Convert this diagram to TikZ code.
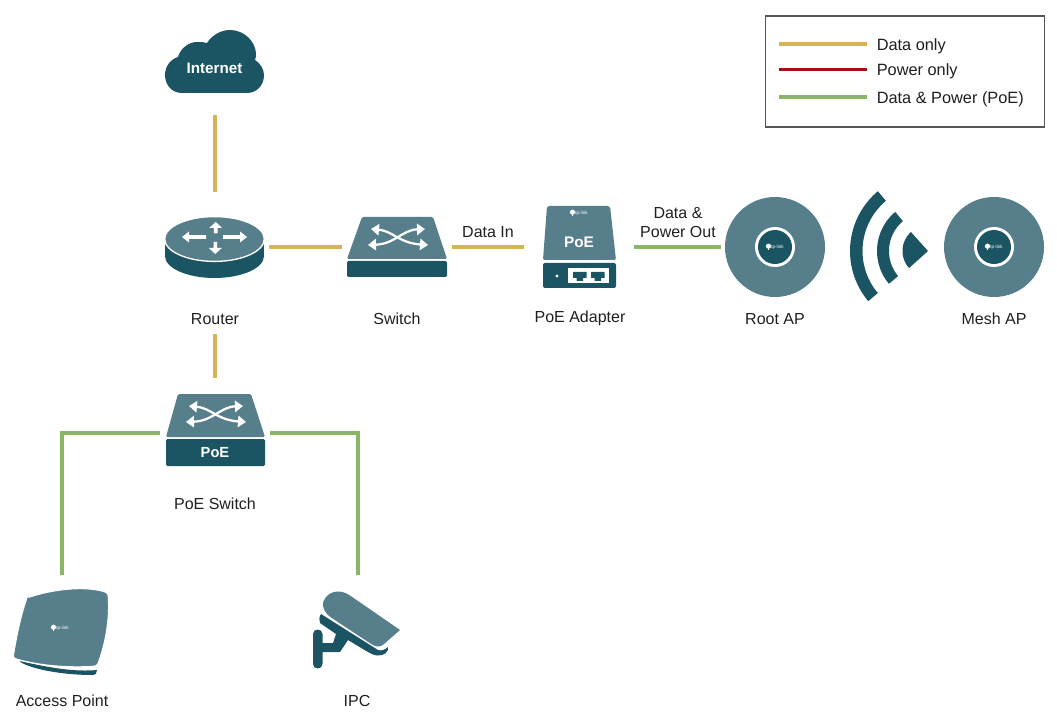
\documentclass[tikz,border=0pt]{standalone}
\usepackage{fontspec}
\setmainfont{Liberation Sans}
\usetikzlibrary{arrows.meta}
\definecolor{tealdark}{HTML}{1B5564}
\definecolor{teallight}{HTML}{567E8B}
\definecolor{datagold}{HTML}{D6B356}
\definecolor{powerred}{HTML}{A80F0F}
\definecolor{poegreen}{HTML}{8AB665}
\definecolor{legendframe}{HTML}{555555}
\tikzset{
  iconbox/.style 2 args={minimum width=#1*0.75pt,minimum height=#2*0.75pt,inner sep=0pt,outer sep=0pt},
  label/.style={font=\fontsize{12}{14}\selectfont,text=black!88,inner sep=0pt,align=center},
  legendlabel/.style={font=\fontsize{12.25}{14}\selectfont,text=black!88,inner sep=0pt,anchor=west},
  onicon/.style={font=\bfseries\fontsize{#1}{#1}\selectfont,text=white,inner sep=0pt},
  dataline/.style={draw=datagold,line width=2.3pt},
  powerline/.style={draw=powerred,line width=2.3pt},
  poeline/.style={draw=poegreen,line width=2.3pt},
  dk/.style={fill=tealdark,draw=none},
  lt/.style={fill=teallight,draw=none},
  wht/.style={fill=white,draw=none},
  crossarrow/.style={draw=white,line width=1.7pt,{Triangle[length=6pt,width=8.5pt]}-{Triangle[length=6pt,width=8.5pt]}}
}
\newcommand{\tplogo}[2]{%
  \fill[wht] (#1-6.5,#2-0.8) circle[radius=2.6];
  \fill[wht] (#1-7.4,#2-1) rectangle (#1-5.6,#2+3.4);
  \node[onicon=3.5] at (#1+2.5,#2) {\mdseries tp-link};
}
\newcommand{\crosstop}[2]{%
  \begin{scope}[shift={(#1,#2)}]
    \draw[crossarrow] (24,12) .. controls (46,14) and (52,26) .. (81,28);
    \draw[crossarrow] (21,28) .. controls (48,27) and (55,13) .. (78,12);
  \end{scope}
}
\newcommand{\mountap}[2]{%
  \fill[lt] (#1,#2) circle[radius=50];
  \fill[wht] (#1,#2) circle[radius=20];
  \fill[dk] (#1,#2) circle[radius=17];
  \tplogo{#1}{#2}
}
\newcommand{\blockarrow}[6]{% x y angle length headlength headwidth
  \begin{scope}[shift={(#1,#2)},rotate=#3]
    \fill[wht] (0,-1.8) -- (#4-#5,-1.8) -- (#4-#5,-#6/2) -- (#4,0) -- (#4-#5,#6/2) -- (#4-#5,1.8) -- (0,1.8) -- cycle;
  \end{scope}
}
\newcommand{\waveband}[2]{%
  \fill[dk] plot[domain=140:230,samples=40] ({#1*cos(\x)},{#1*sin(\x)}) -- plot[domain=230:140,samples=40] ({#2*cos(\x)},{#2*sin(\x)}) -- cycle;
}
\begin{document}
\begin{tikzpicture}[x=0.75pt,y=0.75pt,yscale=-1]
\useasboundingbox (0,0) rectangle (1057,720);

% Internet cloud
\fill[dk] (182,93) .. controls (172,93) and (165,85) .. (165,75)
  .. controls (165,66) and (171,59) .. (178,57)
  .. controls (181,47) and (190,42) .. (197,42)
  .. controls (201,42) and (204,42) .. (207,43)
  .. controls (212,35) and (221,30) .. (230,30)
  .. controls (244,30) and (255,41) .. (256,53)
  .. controls (256,56) and (256,58) .. (255,60)
  .. controls (260,63) and (264,69) .. (264,75)
  .. controls (264,85) and (257,93) .. (247,93) -- cycle;
\node[iconbox={100}{63}] (internet) at (215,61.5) {};
\node[onicon=11.4] at (214.5,68.5) {Internet};

% Router
\fill[dk] (214.5,256) ellipse[x radius=49.5,y radius=22];
\fill[dk] (165,240) rectangle (264,256);
\fill[lt,draw=white,line width=1pt] (214.5,239) ellipse[x radius=49.8,y radius=22.4];
\blockarrow{206}{237}{180}{24}{7}{11}
\blockarrow{223}{237}{0}{24}{7}{11}
\blockarrow{215.7}{233.5}{-90}{11.5}{6}{13}
\blockarrow{215.3}{242}{90}{12}{6}{13}
\node[iconbox={100}{60}] (router) at (215,247) {};

% Switch
\fill[lt,rounded corners=1pt] (362,217) -- (433,217) -- (447,259) -- (347,259) -- cycle;
\fill[dk,rounded corners=1pt] (347,261) rectangle (447,277);
\crosstop{347}{217}
\node[iconbox={100}{60}] (switch) at (397,247) {};

% PoE adapter
\fill[lt,rounded corners=1.5pt] (547,206) -- (610,206) -- (616,260) -- (543,260) -- cycle;
\fill[dk,rounded corners=1.5pt] (543,263) rectangle (616,288);
\fill[wht] (557,276) circle[radius=1.6];
\fill[wht] (568,268) rectangle (609,283);
\foreach \px in {573,591}{
  \fill[dk] (\px,272) -- (\px+13.5,272) -- (\px+13.5,278) -- (\px+10,278) -- (\px+10,281) -- (\px+3.5,281) -- (\px+3.5,278) -- (\px,278) -- cycle;
}
\tplogo{579}{213}
\node[onicon=11.5] at (579,242) {PoE};
\node[iconbox={75}{83}] (adapter) at (579.5,247) {};

% Root and Mesh AP
\mountap{775}{247}
\node[iconbox={100}{100}] (rootap) at (775,247) {};
\mountap{994}{247}
\node[iconbox={100}{100}] (meshap) at (994,247) {};

% Wireless waves
\begin{scope}[shift={(928,251)}]
  \fill[dk] (0,0) -- plot[domain=138:228,samples=30] ({25.5*cos(\x)},{25.5*sin(\x)}) -- cycle;
  \waveband{51}{39}
  \waveband{78}{65.5}
\end{scope}

% PoE switch
\fill[lt,rounded corners=1pt] (178,394) -- (251,394) -- (265,437) -- (166,437) -- cycle;
\fill[dk,rounded corners=1pt] (166,439) rectangle (265,466);
\crosstop{165}{394}
\node[onicon=11] at (215,453) {PoE};
\node[iconbox={100}{80}] (poeswitch) at (215,433) {};

% Access point
\fill[dk] (20,661) .. controls (50,668) and (75,672) .. (97,670) .. controls (97,673) and (96,675) .. (92,675) .. controls (65,675) and (35,670) .. (22,663) -- cycle;
\fill[lt,draw=white,line width=0.8pt,rounded corners=2pt] (27,598) .. controls (50,590) and (85,585) .. (108,593) .. controls (110,620) and (105,645) .. (97,666) .. controls (70,668) and (40,666) .. (13,658) .. controls (16,640) and (20,618) .. (27,598) -- cycle;
\tplogo{60}{628}
\node[iconbox={96}{89}] (ap) at (62,632.5) {};

% IPC camera
\fill[dk] (321,614) -- (378,650) .. controls (381,651) and (385,650) .. (388,647) .. controls (389,652) and (384,656) .. (377,655.5) .. controls (372,655) and (368,652) .. (348,640) -- (340,652) -- (322.5,652) -- (322.5,664) .. controls (322.5,670) and (313,670) .. (313,664) -- (313,634) .. controls (313,628) and (322.5,628) .. (322.5,634) -- (322.5,643) -- (333,643) -- (336,634) -- (320,623) .. controls (319,620) and (319,617) .. (321,614) -- cycle;
\fill[lt] (350,595.5) -- (400,630) -- (384,644) .. controls (380,647.5) and (376,647) .. (372,644.5) -- (331,617.5) .. controls (322,611) and (321,602) .. (326,597) .. controls (332,590) and (342,590) .. (350,595.5) -- cycle;
\node[iconbox={84}{76}] (ipc) at (358,630) {};

% Labels
\node[label] (routerlabel) at (215,319) {Router};
\node[label] (switchlabel) at (397,319) {Switch};
\node[label] (adapterlabel) at (580,318.5) {PoE Adapter};
\node[label] (rootlabel) at (775,319) {Root AP};
\node[label] (meshlabel) at (994,319) {Mesh AP};
\node[label] (poeswitchlabel) at (215,504) {PoE Switch};
\node[label] (aplabel) at (62,701) {Access Point};
\node[label] (ipclabel) at (357,701) {IPC};
\node[label] (datain) at (488,232) {Data In};
\node[label,font=\fontsize{12}{14.2}\selectfont] (dataout) at (678,222.5) {Data \&\\Power Out};

% Connectors
\draw[dataline,shorten <=16.5pt,shorten >=18.7pt] (internet.south) -- (router.north);
\draw[dataline,shorten <=3pt,shorten >=3.7pt] (router.east) -- (switch.west);
\draw[dataline,shorten <=3.7pt,shorten >=13.5pt] (switch.east) -- (adapter.west);
\draw[poeline,shorten <=12.7pt,shorten >=3pt] (adapter.east) -- (rootap.west);
\draw[dataline,shorten <=6.5pt,shorten >=11.2pt] (routerlabel.south) -- (poeswitch.north);
\draw[poeline,shorten <=3.7pt,shorten >=9.7pt] (poeswitch.west) -| (ap.north);
\draw[poeline,shorten <=3.7pt,shorten >=12.7pt] (poeswitch.east) -| (ipc.north);

% Legend
\node[draw=legendframe,line width=1.2pt,iconbox={279}{111},fill=white] (legend) at (905,71.5) {};
\coordinate (dataa) at (779,44);
\coordinate (datab) at (867,44);
\coordinate (powera) at (779,69.5);
\coordinate (powerb) at (867,69.5);
\coordinate (bothA) at (779,97);
\coordinate (bothB) at (867,97);
\draw[dataline] (dataa) -- (datab);
\draw[powerline] (powera) -- (powerb);
\draw[poeline] (bothA) -- (bothB);
\node[legendlabel] (legdata) at (876.5,46.5) {Data only};
\node[legendlabel] (legpower) at (876.5,71.5) {Power only};
\node[legendlabel] (legboth) at (876.5,99.5) {Data \& Power (PoE)};
\end{tikzpicture}
\end{document}
